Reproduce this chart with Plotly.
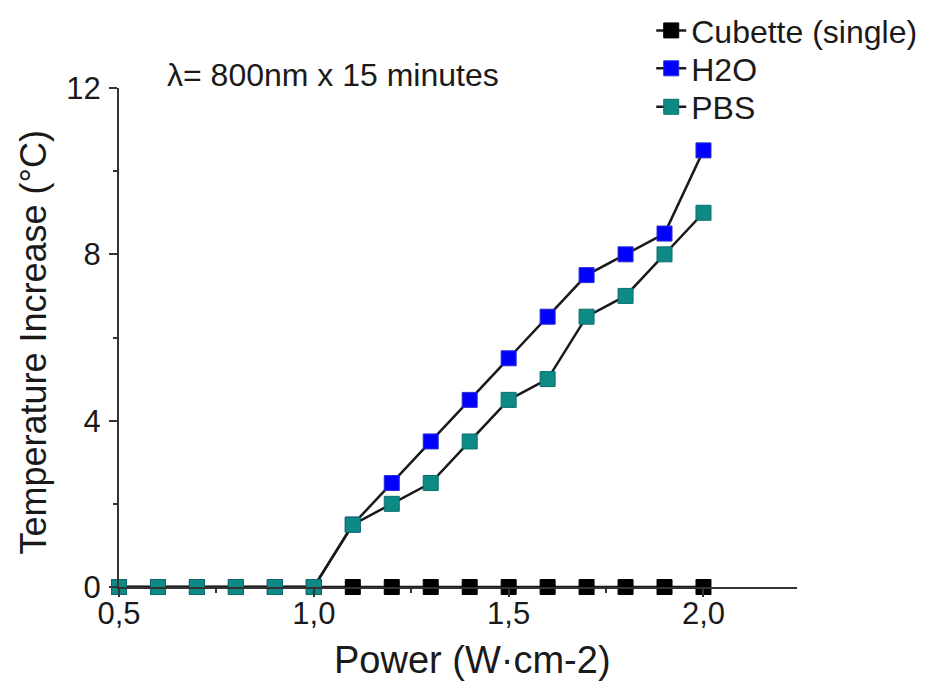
import plotly.graph_objects as go

power = [0.5, 0.6, 0.7, 0.8, 0.9, 1.0, 1.1, 1.2, 1.3, 1.4, 1.5, 1.6, 1.7, 1.8, 1.9, 2.0]
cubette = [0, 0, 0, 0, 0, 0, 0, 0, 0, 0, 0, 0, 0, 0, 0, 0]
h2o = [0, 0, 0, 0, 0, 0, 1.5, 2.5, 3.5, 4.5, 5.5, 6.5, 7.5, 8.0, 8.5, 10.5]
pbs = [0, 0, 0, 0, 0, 0, 1.5, 2.0, 2.5, 3.5, 4.5, 5.0, 6.5, 7.0, 8.0, 9.0]

x_ticks = [0.5, 1.0, 1.5, 2.0]
y_ticks = [0, 4, 8, 12]

series = [
    ("Cubette (single)", cubette, "#000000", "#000000", "legend"),
    ("H2O", h2o, "#0000FF", "#2a2ad0", "legend2"),
    ("PBS", pbs, "#0E8A86", "#0a6f6c", "legend3"),
]

fig = go.Figure()
for name, vals, col, edge, lg in series:
    fig.add_trace(go.Scatter(
        x=power, y=vals, name=name, mode="lines+markers", legend=lg,
        line=dict(color="#1a1a1a", width=2.5),
        marker=dict(symbol="square", size=15, color=col, line=dict(color=edge, width=1)),
        cliponaxis=False,
    ))

font = "Liberation Sans, Arial, sans-serif"
txt = "#1a1a1a"
leg_common = dict(x=0.785, xanchor="left", yanchor="middle",
                  font=dict(size=32, family=font, color=txt),
                  bgcolor="rgba(0,0,0,0)")
fig.update_layout(
    width=917, height=678,
    margin=dict(l=111, r=128, t=80, b=99, autoexpand=False),
    paper_bgcolor="white", plot_bgcolor="white",
    separators=", ",
    font=dict(family=font, color=txt),
    showlegend=True,
    legend=dict(y=1.115, **leg_common),
    legend2=dict(y=1.039, **leg_common),
    legend3=dict(y=0.962, **leg_common),
    annotations=[
        dict(text="λ= 800nm x 15 minutes", x=0.068, y=1.026,
             xref="paper", yref="paper", xanchor="left", yanchor="middle",
             showarrow=False, font=dict(size=32, family=font, color=txt)),
        dict(text="Power (W·cm-2)", x=0.521, y=-0.146,
             xref="paper", yref="paper", xanchor="center", yanchor="middle",
             showarrow=False, font=dict(size=38, family=font, color=txt)),
        dict(text="Temperature Increase (°C)", x=-0.126, y=0.491, textangle=-90,
             xref="paper", yref="paper", xanchor="center", yanchor="middle",
             showarrow=False, font=dict(size=36, family=font, color=txt)),
    ],
)
fig.update_xaxes(
    range=[0.5, 2.24], tickvals=x_ticks, tickformat=".1f", automargin=False,
    showline=True, linecolor="#333", linewidth=2, mirror=False,
    ticks="outside", ticklen=8, tickwidth=2, tickcolor="#333",
    minor=dict(dtick=0.25, tick0=0.5, ticks="outside", ticklen=4, tickwidth=2, tickcolor="#333"),
    showgrid=False, zeroline=False, ticklabelstandoff=-10,
    tickfont=dict(size=31, family=font, color=txt),
)
fig.update_yaxes(
    range=[0, 12], tickvals=y_ticks, automargin=False,
    showline=True, linecolor="#333", linewidth=2, mirror=False,
    ticks="outside", ticklen=8, tickwidth=2, tickcolor="#333",
    minor=dict(dtick=2, tick0=0, ticks="outside", ticklen=4, tickwidth=2, tickcolor="#333"),
    showgrid=False, zeroline=False, ticklabelstandoff=2,
    tickfont=dict(size=31, family=font, color=txt),
)

fig.write_html("out.html")
